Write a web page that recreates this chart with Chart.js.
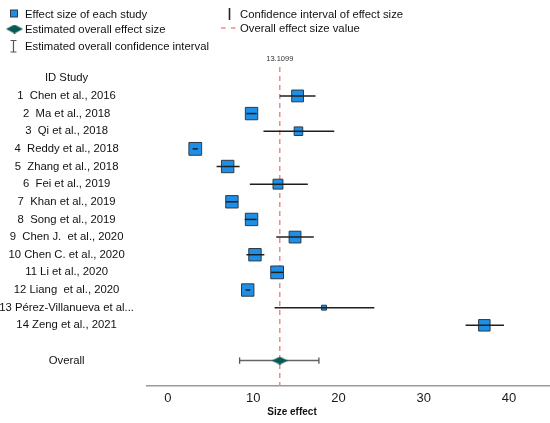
<!DOCTYPE html>
<html>
<head>
<meta charset="utf-8">
<script src="https://cdn.jsdelivr.net/npm/chart.js@4.4.0/dist/chart.umd.min.js"></script>
<style>
  html, body { margin: 0; padding: 0; background: #ffffff; overflow: hidden; }
  #wrap { width: 550px; height: 423px; position: relative; }
  #c { display: block; }
</style>
</head>
<body>
<div id="wrap"><canvas id="c"></canvas></div>
<script>
// ---------------- data ----------------
const headerLabel = "ID Study";
const studyLabels = [
  "1  Chen et al., 2016",
  "2  Ma et al., 2018",
  "3  Qi et al., 2018",
  "4  Reddy et al., 2018",
  "5  Zhang et al., 2018",
  "6  Fei et al., 2019",
  "7  Khan et al., 2019",
  "8  Song et al., 2019",
  "9  Chen J.  et al., 2020",
  "10 Chen C. et al., 2020",
  "11 Li et al., 2020",
  "12 Liang  et al., 2020",
  "13 Pérez-Villanueva et al...",
  "14 Zeng et al., 2021"
];
const overallLabel = "Overall";
const effects = [15.2, 9.8, 15.3, 3.2, 7.0, 12.9, 7.5, 9.8, 14.9, 10.2, 12.8, 9.35, 18.3, 37.1];
const ciLow   = [13.1, 9.2, 11.2, 2.9, 5.7, 9.6, 6.8, 9.0, 12.7, 9.2, 12.1, 9.1, 12.5, 34.9];
const ciHigh  = [17.3, 10.4, 19.5, 3.5, 8.4, 16.4, 8.2, 10.4, 17.1, 11.3, 13.5, 9.65, 24.2, 39.4];
const weights = [7.5, 8.3, 4.0, 8.8, 8.3, 5.3, 8.3, 8.3, 7.5, 8.3, 8.8, 8.3, 1.3, 7.1];
const overallEffect = 13.1099;
const overallLow = 8.4;
const overallHigh = 17.7;
const xTickStep = 10;
const xAxisTitle = "Size effect";
const legendTexts = [
  "Effect size of each study",
  "Estimated overall effect size",
  "Estimated overall confidence interval",
  "Confidence interval of effect size",
  "Overall effect size value"
];

// ---------------- build ----------------
const FONT = '"Liberation Sans", Arial, sans-serif';
const SQUARE_BLUE = '#1e8fe6';
const SQUARE_EDGE = '#2e3a46';
const TEAL = '#0b5a52';
const RED = '#f08a8a';

// row index: 0 = header, 1..n = studies, n+2 = overall
const rowLabels = [headerLabel, ...studyLabels, "", overallLabel];
const overallRow = studyLabels.length + 2;

function makeDiamond(w, h, color) {
  const c = document.createElement('canvas');
  c.width = w; c.height = h;
  const g = c.getContext('2d');
  g.fillStyle = color;
  g.beginPath();
  g.moveTo(0, h / 2); g.lineTo(w / 2, 0); g.lineTo(w, h / 2); g.lineTo(w / 2, h);
  g.closePath(); g.fill();
  return c;
}
const diamondImg = makeDiamond(16, 8, TEAL);

const datasets = [];
// overall diamond (top-most)
datasets.push({
  type: 'scatter', label: 'overall', order: 0,
  data: [{ x: overallEffect, y: overallRow }],
  pointStyle: diamondImg, pointRadius: 8
});
// study CI lines
studyLabels.forEach((_, i) => {
  datasets.push({
    type: 'line', label: 'ci' + i, order: 1,
    data: [{ x: ciLow[i], y: i + 1 }, { x: ciHigh[i], y: i + 1 }],
    borderColor: '#1f1f1f', borderWidth: 1.5, pointRadius: 0, fill: false
  });
});
// study squares
datasets.push({
  type: 'scatter', label: 'effects', order: 2,
  data: effects.map((v, i) => ({ x: v, y: i + 1 })),
  pointStyle: 'rect',
  backgroundColor: SQUARE_BLUE, borderColor: SQUARE_EDGE, borderWidth: 1,
  pointRadius: (ctx) => {
    const w = weights[ctx.dataIndex] || 0;
    const side = 12.4 * Math.sqrt(w / 8.3);
    return side / (2 * Math.SQRT1_2);
  }
});
// overall CI with caps
datasets.push({
  type: 'line', label: 'overallCI', order: 3,
  data: [{ x: overallLow, y: overallRow }, { x: overallHigh, y: overallRow }],
  borderColor: '#666666', borderWidth: 1.5,
  pointStyle: 'line', pointRotation: 90, pointRadius: 3.2,
  pointBorderColor: '#555555', pointBorderWidth: 1.3, fill: false
});

const Y_MIN = -0.64, Y_MAX = 17.44;
// overall effect reference line
datasets.push({
  type: 'line', label: 'refLine', order: 5,
  data: [{ x: overallEffect, y: Y_MIN }, { x: overallEffect, y: Y_MAX }],
  borderColor: RED, borderWidth: 1.5, borderDash: [5, 4], pointRadius: 0, fill: false
});

const annotPlugin = {
  id: 'annot',
  afterDraw(chart) {
    const ctx = chart.ctx;
    const xs = chart.scales.x;
    const area = chart.chartArea;
    ctx.save();
    // value label above the reference line
    ctx.font = '7.5px ' + FONT;
    ctx.fillStyle = '#333333';
    ctx.textAlign = 'center';
    ctx.textBaseline = 'middle';
    ctx.fillText(String(overallEffect), xs.getPixelForValue(overallEffect), area.top - 8);
    // axis title
    ctx.font = 'bold 10px ' + FONT;
    ctx.fillStyle = '#111111';
    ctx.fillText(xAxisTitle, 292, 412);

    // legend
    ctx.font = '11.3px ' + FONT;
    ctx.fillStyle = '#111111';
    ctx.textAlign = 'left';
    ctx.textBaseline = 'middle';
    // 1: square
    ctx.fillStyle = SQUARE_BLUE; ctx.fillRect(10.5, 10, 7, 7);
    ctx.strokeStyle = SQUARE_EDGE; ctx.lineWidth = 1; ctx.strokeRect(10.5, 10, 7, 7);
    ctx.fillStyle = '#111111';
    ctx.fillText(legendTexts[0], 25, 15);
    // 2: diamond
    ctx.drawImage(makeDiamond(17, 9, TEAL), 6, 24.5);
    ctx.fillText(legendTexts[1], 25, 30);
    // 3: I-bar
    ctx.strokeStyle = '#555555'; ctx.lineWidth = 1.2;
    ctx.beginPath();
    ctx.moveTo(13.5, 40.5); ctx.lineTo(13.5, 52);
    ctx.moveTo(10.5, 40.5); ctx.lineTo(16.5, 40.5);
    ctx.moveTo(10.5, 52); ctx.lineTo(16.5, 52);
    ctx.stroke();
    ctx.fillText(legendTexts[2], 25, 46.5);
    // 4: vertical CI bar
    ctx.strokeStyle = '#222222'; ctx.lineWidth = 1.6;
    ctx.beginPath(); ctx.moveTo(229.5, 8); ctx.lineTo(229.5, 20); ctx.stroke();
    ctx.fillText(legendTexts[3], 240, 15);
    // 5: red dashes
    ctx.strokeStyle = RED; ctx.lineWidth = 1.5;
    ctx.setLineDash([4.5, 5.5]);
    ctx.beginPath(); ctx.moveTo(221, 28); ctx.lineTo(236, 28); ctx.stroke();
    ctx.setLineDash([]);
    ctx.fillText(legendTexts[4], 240, 28.5);
    ctx.restore();
  }
};

new Chart(document.getElementById('c'), {
  data: { datasets },
  options: {
    responsive: true,
    maintainAspectRatio: false,
    animation: false,
    layout: { autoPadding: false, padding: { top: 67, left: 0, right: 0, bottom: 0 } },
    plugins: { legend: { display: false }, tooltip: { enabled: false } },
    scales: {
      x: {
        type: 'linear',
        min: -2.46, max: 44.8,
        grid: { display: false, drawTicks: false },
        border: { display: true, color: '#9a9a9a', width: 1.5 },
        ticks: {
          stepSize: xTickStep, includeBounds: false,
          font: { family: FONT, size: 13 }, color: '#1a1a1a', padding: 5,
          callback: (v) => (v % xTickStep === 0 ? String(v) : '')
        },
        afterFit: (s) => { s.height = 37; }
      },
      y: {
        type: 'linear',
        reverse: true,
        min: Y_MIN, max: Y_MAX,
        grid: { display: false, drawTicks: false },
        border: { display: false },
        ticks: {
          stepSize: 1, includeBounds: false, autoSkip: false, maxTicksLimit: 100,
          crossAlign: 'center', padding: 13,
          font: { family: FONT, size: 11.3 }, color: '#111111',
          callback: (v) => (Number.isInteger(v) && rowLabels[v] !== undefined ? rowLabels[v] : '')
        },
        afterFit: (s) => { s.width = 147; }
      }
    }
  },
  plugins: [annotPlugin]
});
</script>
</body>
</html>
